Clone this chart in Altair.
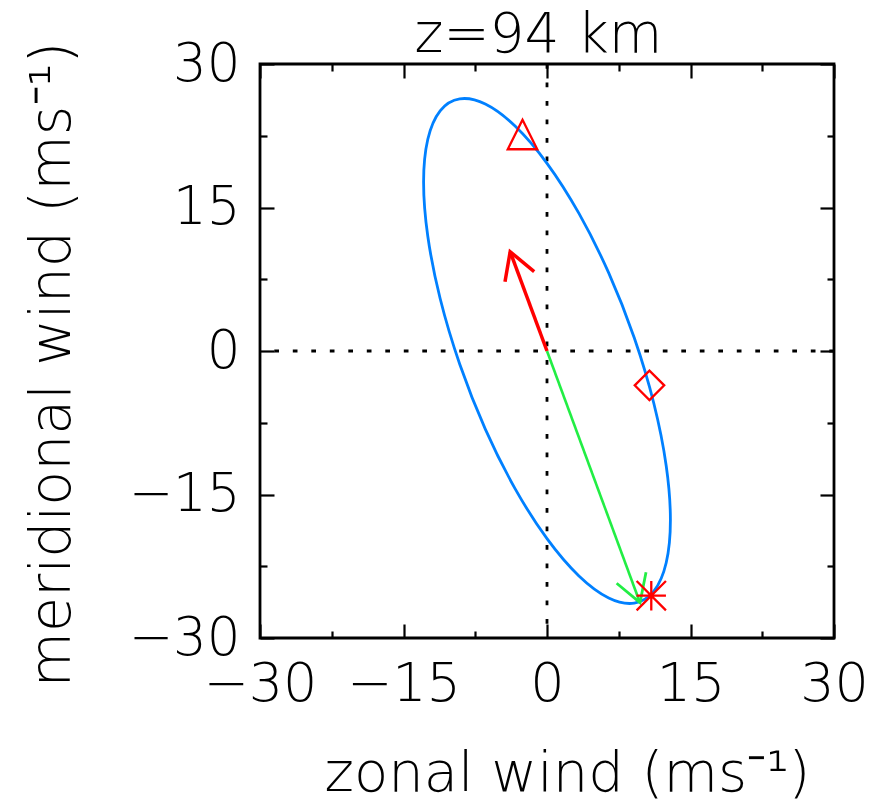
import altair as alt
import pandas as pd

FONT = "DejaVu Sans"
FW = 200

# ---------------- data ----------------
# hodograph ellipse (zonal u, meridional v), m/s
ell_u = [12.9, 12.46, 11.17, 9.12, 6.45, 3.34, 0.0, -3.34, -6.45, -9.12, -11.17, -12.46,
         -12.9, -12.46, -11.17, -9.12, -6.45, -3.34, 0.0, 3.34, 6.45, 9.12, 11.17, 12.46]
ell_v = [-17.67, -11.99, -5.49, 1.38, 8.16, 14.38, 19.62, 23.52, 25.82, 26.36, 25.11, 22.14,
         17.67, 11.99, 5.49, -1.38, -8.16, -14.38, -19.62, -23.52, -25.82, -26.36, -25.11, -22.14]

# red arrow (shaft + head)
red_u = [0.0, -3.85]
red_v = [0.0, 10.38]
red_head_u = [-4.39, -3.85, -1.34]
red_head_v = [7.24, 10.38, 8.30]

# green arrow (shaft + head)
green_u = [0.0, 9.72]
green_v = [0.0, -26.31]
green_head_u = [7.28, 9.72, 10.35]
green_head_v = [-24.28, -26.31, -23.13]

# markers
tri_u, tri_v = [-2.56], [22.63]
dia_u, dia_v = [10.71], [-3.59]
star_u, star_v = [10.90], [-25.58]

zero_line = [0.0]

major_ticks = [-30, -15, 0, 15, 30]
minor_ticks = [-22.5, -7.5, 7.5, 22.5]

TITLE = "z=94\u00a0km"
XTITLE = "zonal wind (ms\u207b\u00b9)"
YTITLE = "meridional wind (ms\u207b\u00b9)"

# ---------------- chart ----------------
W = H = 574
sc = alt.Scale(domain=[-30, 30], nice=False, zero=False)


def tick_axis(orient, values, size, **kw):
    args = dict(orient=orient, offset=-W, values=values, tickSize=size, tickWidth=2.2,
                tickColor="black", ticks=True, labels=False, domain=False, grid=False)
    args.update(kw)
    if "title" not in args:
        args["title"] = None
    return alt.Axis(**args)


x_lab = alt.Axis(orient="bottom", values=major_ticks, ticks=False, tickSize=0, domain=False,
                 grid=False, labelFont=FONT, labelFontSize=54, labelFontWeight=FW,
                 labelPadding=19, labelColor="black", labelFlush=False, labelOverlap=False,
                 title=XTITLE, titleFont=FONT, titleFontSize=56, titleFontWeight=FW,
                 titleColor="black", titleX=307, titleY=152, titleBaseline="alphabetic",
                 titleAlign="center", titleAngle=0)
y_lab = alt.Axis(orient="left", values=major_ticks, ticks=False, tickSize=0, domain=False,
                 grid=False, labelFont=FONT, labelFontSize=53, labelFontWeight=FW,
                 labelPadding=20, labelColor="black", labelFlush=False, labelOverlap=False,
                 title=YTITLE, titleFont=FONT, titleFontSize=57, titleFontWeight=FW,
                 titleColor="black", titleX=-191, titleY=300, titleBaseline="alphabetic",
                 titleAlign="center", titleAngle=-90)

ell_df = pd.DataFrame({"u": ell_u, "v": ell_v, "i": list(range(len(ell_u)))})
ellipse = alt.Chart(ell_df).mark_line(color="#0080FF", strokeWidth=2.8,
                                      interpolate="cardinal-closed").encode(
    x=alt.X("u:Q", scale=sc, axis=x_lab),
    y=alt.Y("v:Q", scale=sc, axis=y_lab),
    order="i:Q")

hline = alt.Chart(pd.DataFrame({"v": zero_line})).mark_rule(
    color="black", strokeWidth=2.8, strokeDash=[4.7, 13.8]).encode(
    y=alt.Y("v:Q", scale=sc, axis=None))
vline = alt.Chart(pd.DataFrame({"u": zero_line})).mark_rule(
    color="black", strokeWidth=2.8, strokeDash=[4.7, 13.8]).encode(
    x=alt.X("u:Q", scale=sc, axis=None))


def poly(us, vs, color, width, xax, yax):
    df = pd.DataFrame({"u": us, "v": vs, "i": list(range(len(us)))})
    return alt.Chart(df).mark_line(color=color, strokeWidth=width).encode(
        x=alt.X("u:Q", scale=sc, axis=xax),
        y=alt.Y("v:Q", scale=sc, axis=yax),
        order="i:Q")


title_axis = tick_axis("bottom", major_ticks, 14,
                       title=TITLE, titleFont=FONT, titleFontSize=55, titleFontWeight=FW,
                       titleColor="black", titleX=W / 2 - 9, titleY=-13,
                       titleBaseline="alphabetic", titleAlign="center", titleAngle=0)

green = poly(green_u, green_v, "#22EE44", 2.6, title_axis, tick_axis("left", major_ticks, 14))
green_head = poly(green_head_u, green_head_v, "#22EE44", 2.8,
                  tick_axis("bottom", minor_ticks, 7), tick_axis("left", minor_ticks, 7))
red = poly(red_u, red_v, "#FF0000", 3.5,
           tick_axis("top", major_ticks, 14), tick_axis("right", major_ticks, 14))
red_head = poly(red_head_u, red_head_v, "#FF0000", 3.5,
                tick_axis("top", minor_ticks, 7), tick_axis("right", minor_ticks, 7))


def marker(us, vs, shape, size):
    return alt.Chart(pd.DataFrame({"u": us, "v": vs})).mark_point(
        shape=shape, size=size, filled=False, color="#FF0000", strokeWidth=2.3,
        opacity=1).encode(
        x=alt.X("u:Q", scale=sc, axis=None),
        y=alt.Y("v:Q", scale=sc, axis=None))


tri = marker(tri_u, tri_v, "M0,-1L1,1L-1,1Z", 870)
dia = marker(dia_u, dia_v, "diamond", 870)
star = marker(star_u, star_v, "M-1,0L1,0M0,-1L0,1M-1,-1L1,1M-1,1L1,-1", 860)

chart = alt.layer(hline, vline, ellipse, green, green_head, red, red_head, tri, dia, star).resolve_axis(
    x="independent", y="independent"
).properties(
    width=W, height=H,
    background="white",
    autosize=alt.AutoSizeParams(type="none"),
    padding={"left": 260, "top": 64, "right": 38, "bottom": 166},
).configure_view(stroke="black", strokeWidth=2.8)

chart.save("out.html", embed_options={"renderer": "svg", "actions": False})
